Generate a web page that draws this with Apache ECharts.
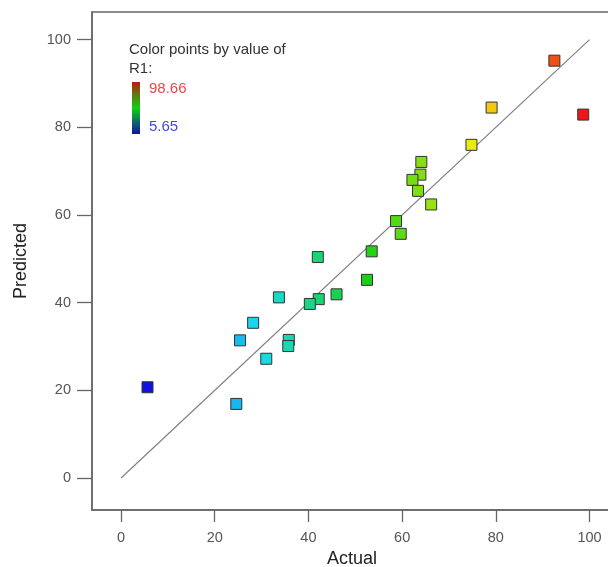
<!DOCTYPE html>
<html>
<head>
  <meta charset="utf8">
  <script src="https://cdn.jsdelivr.net/npm/echarts@6/dist/echarts.min.js"></script>
  <style>
    html, body { margin: 0; padding: 0; background: #fff; overflow: hidden; }
    #main { width: 608px; height: 567px; }
  </style>
</head>
<body>
<div id="main"></div>
<script type="text/javascript">
    // actual vs predicted values
    var actual    = [92.5, 98.66, 79.1, 74.8, 64.1, 63.9, 62.2, 63.4, 66.2, 58.7, 59.7, 53.5, 42.0, 52.5, 33.7, 46.0, 42.2, 40.3, 28.2, 25.4, 35.8, 35.7, 31.0, 5.65, 24.6];
    var predicted = [95.2, 82.9, 84.5, 76.0, 72.1, 69.2, 68.0, 65.5, 62.4, 58.6, 55.7, 51.7, 50.4, 45.2, 41.2, 41.9, 40.8, 39.7, 35.4, 31.4, 31.5, 30.1, 27.2, 20.7, 16.9];
    var r1Min = 5.65, r1Max = 98.66;
    var tickValues = [0, 20, 40, 60, 80, 100];
    var diagonal = [[0, 0], [100, 100]];

    var points = [];
    for (var i = 0; i < actual.length; i++) {
        points.push([actual[i], predicted[i]]);
    }

    var font = 'Liberation Sans, Arial, sans-serif';
    var chart = echarts.init(document.getElementById('main'));
    chart.setOption({
        animation: false,
        grid: {
            left: 92, top: 12, right: -4, bottom: 57,
            outerBoundsMode: 'none', containLabel: false,
            show: true, borderColor: '#666', borderWidth: 1.5
        },
        xAxis: {
            type: 'value', min: -6.2, max: 104.8,
            name: 'Actual', nameLocation: 'middle', nameGap: 36,
            nameTextStyle: { fontSize: 18, color: '#222', fontFamily: font },
            axisLine: { show: true, onZero: false, lineStyle: { color: '#666', width: 1.5 } },
            axisTick: { show: true, length: 12, customValues: tickValues, lineStyle: { color: '#666', width: 1.3 } },
            axisLabel: { customValues: tickValues, margin: 20, fontSize: 14.5, color: '#555', fontFamily: font },
            splitLine: { show: false }
        },
        yAxis: {
            type: 'value', min: -7.3, max: 106.3,
            name: 'Predicted', nameLocation: 'middle', nameGap: 62,
            nameTextStyle: { fontSize: 18, color: '#222', fontFamily: font },
            axisLine: { show: true, onZero: false, lineStyle: { color: '#666', width: 1.5 } },
            axisTick: { show: true, length: 15, customValues: tickValues, lineStyle: { color: '#666', width: 1.3 } },
            axisLabel: { customValues: tickValues, margin: 21, fontSize: 14.5, color: '#555', fontFamily: font },
            splitLine: { show: false }
        },
        visualMap: {
            show: false, type: 'continuous', seriesIndex: 0, dimension: 0,
            min: r1Min, max: r1Max,
            inRange: { color: ['#1010e0', '#18dcf0', '#18d018', '#f0ec10', '#ee1818'] }
        },
        graphic: [
            { type: 'text', left: 129, top: 42, style: { text: 'Color points by value of', fontSize: 15, fill: '#333', fontFamily: font } },
            { type: 'text', left: 129, top: 61, style: { text: 'R1:', fontSize: 15, fill: '#333', fontFamily: font } },
            {
                type: 'rect', shape: { x: 132, y: 82, width: 8, height: 52 },
                style: {
                    fill: new echarts.graphic.LinearGradient(0, 0, 0, 1, [
                        { offset: 0, color: '#b02010' },
                        { offset: 0.5, color: '#10d010' },
                        { offset: 1, color: '#1010b0' }
                    ])
                }
            },
            { type: 'text', left: 149, top: 81, style: { text: '98.66', fontSize: 15, fill: '#e84848', fontFamily: font } },
            { type: 'text', left: 149, top: 119, style: { text: '5.65', fontSize: 15, fill: '#4848e0', fontFamily: font } }
        ],
        series: [
            {
                type: 'scatter', data: points, symbol: 'rect', symbolSize: 11, z: 3,
                itemStyle: { borderColor: '#333', borderWidth: 1, opacity: 1 }
            },
            {
                type: 'line', data: diagonal, symbol: 'none', silent: true, z: 2,
                lineStyle: { color: '#808080', width: 1.2 }
            }
        ]
    });
</script>
</body>
</html>
